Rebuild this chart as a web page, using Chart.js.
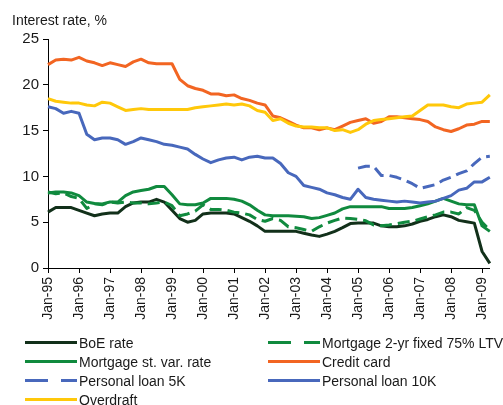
<!DOCTYPE html>
<html>
<head>
<meta charset="utf-8">
<script src="https://cdn.jsdelivr.net/npm/chart.js@4.4.1/dist/chart.umd.min.js"></script>
<style>
  html, body { margin: 0; padding: 0; background: #fff; }
</style>
</head>
<body>
<canvas id="myChart" width="503" height="405"></canvas>
<script>
// quarterly readings, Jan-95 .. Apr-09
const quarters = [
  'Jan-95','Apr-95','Jul-95','Oct-95','Jan-96','Apr-96','Jul-96','Oct-96',
  'Jan-97','Apr-97','Jul-97','Oct-97','Jan-98','Apr-98','Jul-98','Oct-98',
  'Jan-99','Apr-99','Jul-99','Oct-99','Jan-00','Apr-00','Jul-00','Oct-00',
  'Jan-01','Apr-01','Jul-01','Oct-01','Jan-02','Apr-02','Jul-02','Oct-02',
  'Jan-03','Apr-03','Jul-03','Oct-03','Jan-04','Apr-04','Jul-04','Oct-04',
  'Jan-05','Apr-05','Jul-05','Oct-05','Jan-06','Apr-06','Jul-06','Oct-06',
  'Jan-07','Apr-07','Jul-07','Oct-07','Jan-08','Apr-08','Jul-08','Oct-08',
  'Jan-09','Apr-09'
];

const boeRate = [
  6.1, 6.6, 6.6, 6.6,  6.3, 6.0, 5.7, 5.9,  6.0, 6.0, 6.7, 7.1,  7.2, 7.2, 7.5, 7.2,
  6.3, 5.4, 5.0, 5.2,  5.9, 6.0, 6.0, 6.0,  5.9, 5.5, 5.1, 4.6,  4.0, 4.0, 4.0, 4.0,
  4.0, 3.8, 3.6, 3.45, 3.7, 4.0, 4.4, 4.85, 4.9, 4.9, 4.9, 4.6, 4.5, 4.5, 4.6, 4.8,
  5.1, 5.3, 5.6, 5.8,  5.6, 5.2, 5.05, 4.9, 1.8, 0.5
];
const mortgageFixed = [
  8.3, 8.1, 8.2, 7.8,  7.6, 6.5, 7.0, 6.9,  7.2, 7.1, 7.2, 7.1,  7.1, 7.0, 7.1, 7.2,
  6.8, 5.7, 5.9, 6.2,  6.9, 6.4, 6.4, 6.3,  6.1, 6.0, 5.8, 5.3,  5.1, 5.4, 5.2, 4.5,
  4.4, 4.2, 4.0, 4.5,  4.9, 5.2, 5.45, 5.4, 5.3, 5.15, 4.7, 4.6, 4.7, 4.85, 5.0, 5.1,
  5.35, 5.6, 5.8, 6.1, 6.1, 5.9, 6.6, 6.3,  5.0, 4.1
];
const mortgageSvr = [
  8.2, 8.3, 8.3, 8.2,  7.9, 7.2, 7.05, 7.0, 7.2, 7.2, 7.9, 8.3,  8.45, 8.6, 8.9, 8.9,
  8.0, 7.0, 6.9, 6.9,  7.1, 7.6, 7.6, 7.6,  7.5, 7.3, 6.9, 6.3,  5.8, 5.7, 5.7, 5.7,
  5.65, 5.6, 5.4, 5.5, 5.75, 6.0, 6.45, 6.7, 6.7, 6.7, 6.7, 6.7, 6.5, 6.5, 6.5, 6.6,
  6.8, 7.0, 7.3, 7.6,  7.3, 7.0, 6.9, 6.9,  4.6, 4.0
];
const creditCard = [
  22.2, 22.7, 22.8, 22.7, 23.0, 22.6, 22.4, 22.1, 22.4, 22.2, 22.0, 22.5, 22.8, 22.4, 22.3, 22.3,
  22.3, 20.6, 19.9, 19.6, 19.4, 19.0, 19.0, 18.8, 18.9, 18.5, 18.3, 18.0, 17.8, 16.6, 16.4, 16.0,
  15.6, 15.3, 15.3, 15.1, 15.3, 15.1, 15.5, 15.9, 16.1, 16.3, 15.8, 16.0, 16.5, 16.5, 16.4, 16.3,
  16.2, 16.0, 15.4, 15.1, 14.9, 15.2, 15.6, 15.7, 16.0, 16.0
];
const loan5k = [
  null, null, null, null, null, null, null, null, null, null, null, null, null, null, null, null,
  null, null, null, null, null, null, null, null, null, null, null, null, null, null, null, null,
  null, null, null, null, null, null, null, null, 10.9, 11.1, 11.1, 10.1, 10.1, 9.9, 9.6, 9.2,
  8.7, 8.9, 9.1, 9.6, 9.9, 10.3, 10.6, 11.4, 12.1, 12.2
];
const loan10k = [
  17.6, 17.4, 16.9, 17.1, 16.9, 14.6, 14.0, 14.2, 14.2, 14.0, 13.5, 13.8, 14.2, 14.0, 13.8, 13.5,
  13.4, 13.2, 13.0, 12.4, 11.9, 11.5, 11.8, 12.0, 12.1, 11.8, 12.1, 12.2, 12.0, 12.0, 11.4, 10.4,
  10.0, 9.0, 8.8, 8.6,  8.2, 8.0, 7.7, 7.5,  8.6, 7.7, 7.5, 7.4,  7.3, 7.2, 7.3, 7.2,
  7.1, 7.2, 7.3, 7.6,  7.9, 8.5, 8.7, 9.4,  9.4, 9.9
];
const overdraft = [
  18.5, 18.2, 18.1, 18.0, 18.0, 17.8, 17.7, 18.1, 18.0, 17.6, 17.2, 17.3, 17.4, 17.3, 17.3, 17.3,
  17.3, 17.3, 17.3, 17.5, 17.6, 17.7, 17.8, 17.9, 17.8, 17.9, 17.7, 17.2, 17.0, 16.1, 16.3, 15.8,
  15.5, 15.4, 15.4, 15.3, 15.3, 15.0, 15.1, 14.8, 15.1, 15.7, 16.1, 16.2, 16.3, 16.4, 16.5, 16.6,
  17.2, 17.8, 17.8, 17.8, 17.6, 17.5, 17.9, 18.0, 18.1, 18.9
];

const FONT = '"Liberation Sans", Arial, sans-serif';
const TEXT = '#1a1a1a';

function series(label, data, color, dashed, order) {
    return {
        label: label,
        data: data,
        borderColor: color,
        borderWidth: 3,
        borderDash: dashed ? [12, 6] : [],
        borderJoinStyle: 'round',
        pointRadius: 0,
        tension: 0,
        fill: false,
        order: order
    };
}

// title + two-column legend drawn by hand
const extras = {
    id: 'extras',
    afterDraw(chart) {
        const c = chart.ctx;
        c.save();
        c.fillStyle = TEXT;
        c.font = '14px ' + FONT;
        c.textBaseline = 'alphabetic';
        c.fillText('Interest rate, %', 12, 25);
        chart.data.datasets.forEach((ds, i) => {
            const x = i % 2 === 0 ? 25 : 268;
            const base = 348 + Math.floor(i / 2) * 19;
            c.strokeStyle = ds.borderColor;
            c.lineWidth = 3;
            c.setLineDash(ds.borderDash.length ? [23, 13] : []);
            c.beginPath();
            c.moveTo(x, base - 5.5);
            c.lineTo(x + 52, base - 5.5);
            c.stroke();
            c.fillText(ds.label, x + 54, base);
        });
        c.restore();
    }
};

const ctx = document.getElementById('myChart').getContext('2d');
new Chart(ctx, {
    type: 'line',
    data: {
        labels: quarters,
        datasets: [
            series('BoE rate', boeRate, '#12301a', false, 7),
            series('Mortgage 2-yr fixed 75% LTV', mortgageFixed, '#108a3e', true, 6),
            series('Mortgage st. var. rate', mortgageSvr, '#108a3e', false, 5),
            series('Credit card', creditCard, '#f26522', false, 4),
            series('Personal loan 5K', loan5k, '#4868bc', true, 3),
            series('Personal loan 10K', loan10k, '#4868bc', false, 2),
            series('Overdraft', overdraft, '#ffc80a', false, 1)
        ]
    },
    options: {
        responsive: false,
        animation: false,
        layout: { padding: { top: 39, right: 7, left: 0, bottom: 77 } },
        plugins: { legend: { display: false }, tooltip: { enabled: false } },
        scales: {
            x: {
                grid: { drawOnChartArea: false, drawTicks: true, tickLength: 5, color: '#000' },
                border: { color: '#000', width: 1 },
                afterFit: (s) => { s.height = 60; },
                ticks: {
                    autoSkip: false,
                    maxRotation: 90,
                    minRotation: 90,
                    padding: 4,
                    color: TEXT,
                    font: { family: FONT, size: 14 },
                    callback: function(value, index) {
                        const lab = quarters[index];
                        return lab.startsWith('Jan') ? lab : null;
                    }
                }
            },
            y: {
                min: 0,
                max: 25,
                grid: { drawOnChartArea: false, drawTicks: true, tickLength: 5, color: '#000' },
                border: { color: '#000', width: 1 },
                afterFit: (s) => { s.width = 48; },
                ticks: {
                    stepSize: 5,
                    padding: 4,
                    color: TEXT,
                    font: { family: FONT, size: 15 }
                }
            }
        }
    },
    plugins: [extras]
});
</script>
</body>
</html>
